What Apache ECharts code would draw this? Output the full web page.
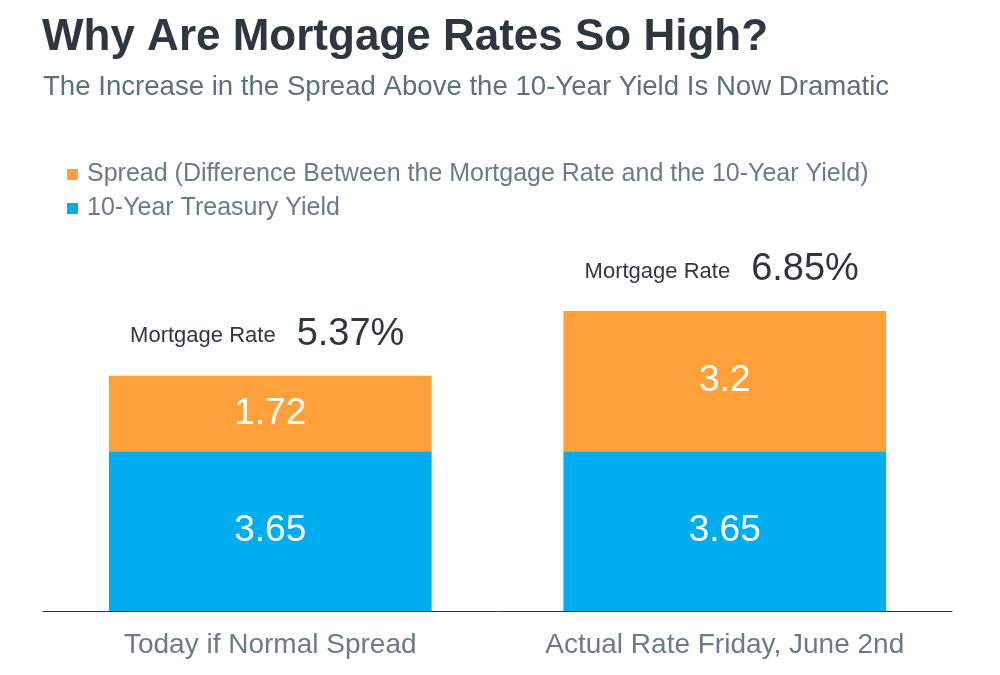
<!DOCTYPE html>
<html>
<head>
<meta charset="utf-8">
<script src="https://cdn.jsdelivr.net/npm/echarts@6/dist/echarts.min.js"></script>
<style>
html,body{margin:0;padding:0;background:#fff;}
#chart{width:1000px;height:675px;}
</style>
</head>
<body>
<div id="chart"></div>
<script>
const categories = ['Today if Normal Spread', 'Actual Rate Friday, June 2nd'];
const treasuryYield = [3.65, 3.65];
const spread = [1.72, 3.2];
const mortgageRates = [5.37, 6.85];
const seriesNames = ['Spread (Difference Between the Mortgage Rate and the 10-Year Yield)', '10-Year Treasury Yield'];

const FONT = 'Liberation Sans, Arial, Helvetica, sans-serif';
const chart = echarts.init(document.getElementById('chart'), null, {renderer: 'canvas'});
chart.setOption({
  backgroundColor: '#ffffff',
  animation: false,
  textStyle: {fontFamily: FONT},
  title: [
    {text: 'Why Are Mortgage Rates So High?', left: 37, top: 11,
     textStyle: {fontFamily: FONT, fontSize: 44, fontWeight: 'bold', color: '#2e3740'}},
    {text: 'The Increase in the Spread Above the 10-Year Yield Is Now Dramatic', left: 38, top: 68,
     textStyle: {fontFamily: FONT, fontSize: 27.6, fontWeight: 'normal', color: '#5b717c'}}
  ],
  legend: {
    orient: 'vertical', left: 62, top: 157, itemWidth: 11, itemHeight: 11, itemGap: 9,
    icon: 'rect',
    data: [seriesNames[0], seriesNames[1]],
    textStyle: {fontFamily: FONT, fontSize: 25, color: '#6b7a8c', padding: [0, 0, 0, 4]}
  },
  grid: {left: 43, right: 48, top: 173, bottom: 64, containLabel: false},
  xAxis: {
    type: 'category', data: categories,
    axisLine: {show: true, lineStyle: {color: '#333', width: 1}},
    axisTick: {show: false},
    axisLabel: {interval: 0, hideOverlap: false, fontFamily: FONT, fontSize: 28, color: '#6b7a8c', margin: 20}
  },
  yAxis: {type: 'value', min: 0, max: 10, show: false, splitLine: {show: false}},
  series: [
    {
      name: seriesNames[1], type: 'bar', stack: 'rate', data: treasuryYield, barWidth: '71%',
      itemStyle: {color: '#00adef'},
      label: {show: true, position: 'inside', color: '#ffffff', fontSize: 37, fontFamily: FONT}
    },
    {
      name: seriesNames[0], type: 'bar', stack: 'rate', data: spread, barWidth: '71%',
      itemStyle: {color: '#ffa13b'},
      label: {show: true, position: 'inside', color: '#ffffff', fontSize: 37, fontFamily: FONT}
    },
    {
      name: 'total', type: 'bar', stack: 'rate', data: [0, 0], barWidth: '71%',
      itemStyle: {color: 'transparent'},
      label: {
        show: true, position: 'top', distance: 21, offset: [-3, 0],
        formatter: function (p) { return '{a|Mortgage Rate}{b|' + mortgageRates[p.dataIndex].toFixed(2) + '%}'; },
        rich: {
          a: {fontFamily: FONT, fontSize: 22, color: '#2e3740', padding: [3, 21, 0, 0]},
          b: {fontFamily: FONT, fontSize: 38, color: '#2e3740', lineHeight: 40}
        }
      }
    }
  ]
});
</script>
</body>
</html>
